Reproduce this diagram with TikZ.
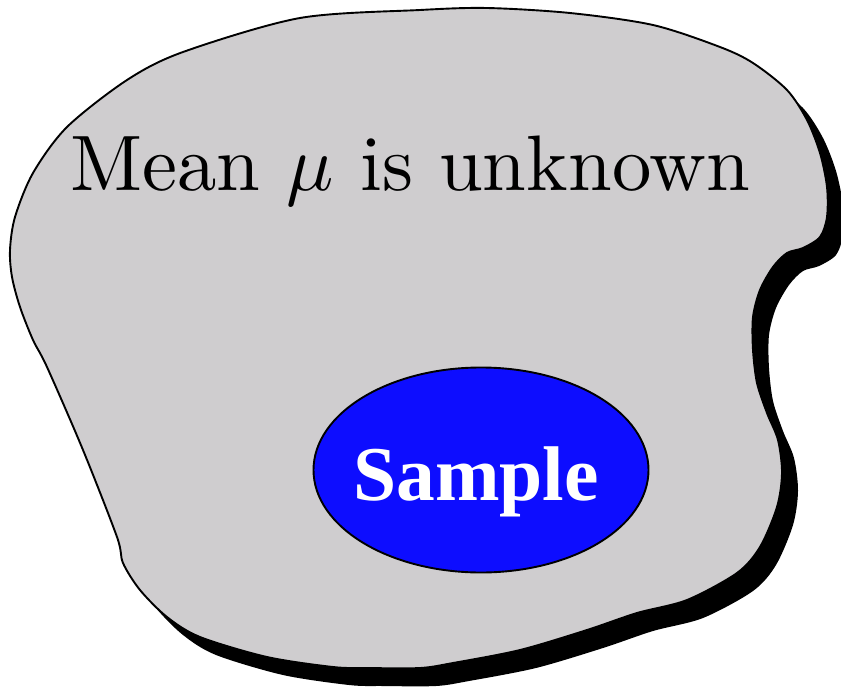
\documentclass[tikz,border=0pt]{standalone}
\usepackage{fontspec}
\newfontfamily\samplefont{Liberation Serif}
\usetikzlibrary{shapes.geometric}
\definecolor{popgray}{RGB}{207,205,207}
\definecolor{sampleblue}{RGB}{13,13,255}
\tikzset{
  blobfill/.style={fill=popgray, draw=black, line width=1.9bp, line join=round},
  blobshadow/.style={fill=black},
  samplebox/.style={ellipse, draw=black, line width=1.9bp, fill=sampleblue,
    minimum width=335bp, minimum height=205bp, inner sep=0pt},
  meantext/.style={anchor=base, inner sep=0pt, scale=7.9, transform shape,
    font=\fontsize{10}{12}\selectfont},
  sampletext/.style={anchor=base, inner sep=0pt, text=white, font=\samplefont\bfseries\fontsize{77.5bp}{90bp}\selectfont}
}
\def\blobpath{plot[smooth cycle, tension=0.5] coordinates {
 (420,10) (487,8) (570,13) (653,25) (720,47) (753,63) (787,90) (807,120)
 (820,153) (827,187) (827,217) (820,237) (803,248) (787,253) (773,267)
 (760,290) (753,317) (753,350) (757,383) (767,413) (778,440) (782,473)
 (777,507) (760,547) (737,573) (687,600) (637,613) (587,630) (520,650)
 (453,663) (420,668) (367,668) (333,667) (267,657) (200,637) (167,617)
 (140,590) (123,563) (117,537) (83,450) (47,367) (33,340) (20,307)
 (12,277) (10,250) (15,217) (33,173) (67,127) (127,80) (183,52) (300,18)}}
\begin{document}
\begin{tikzpicture}[x=1bp, y=-1bp]
\useasboundingbox (0,0) rectangle (841,688);
\fill[blobshadow, shift={(16,18)}] \blobpath;
\draw[blobfill] \blobpath;
\node[samplebox] (sample) at (481,470) {};
\node[sampletext] (samplelabel) at (476,500) {Sample};
\node[meantext] (meanlabel) at (410,190) {Mean $\mu$ is unknown};
\end{tikzpicture}
\end{document}
